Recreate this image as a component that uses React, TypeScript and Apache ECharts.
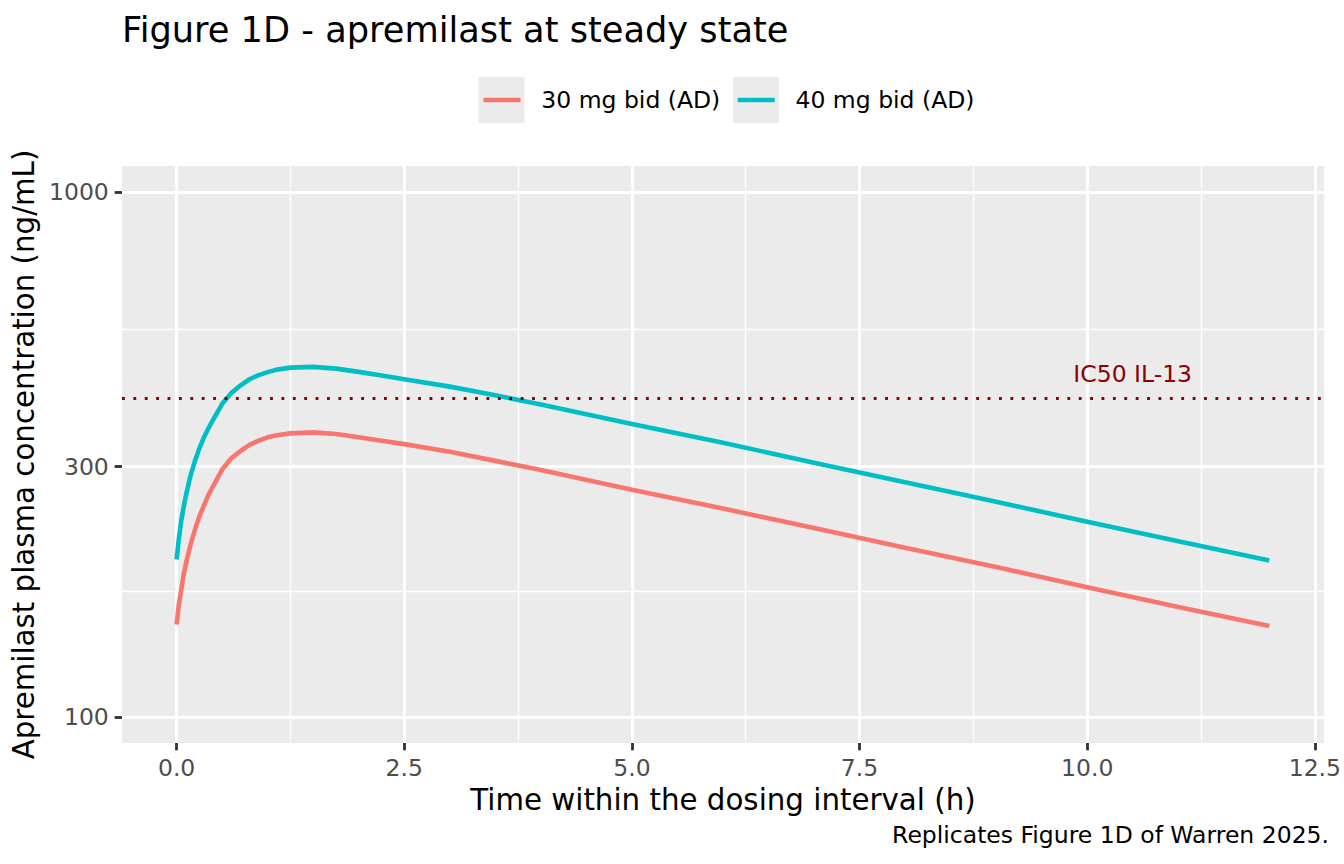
import React, { useEffect, useRef } from "react";
import * as echarts from "echarts";

// ---- data ----
const timeH = [0, 0.025, 0.05, 0.075, 0.1, 0.15, 0.2, 0.25, 0.3, 0.35, 0.4, 0.5, 0.6, 0.7, 0.8, 0.9, 1.0, 1.1, 1.25, 1.5, 1.75, 2.0, 2.25, 2.5, 3.0, 3.5, 4, 5, 6, 7, 8, 9, 10, 11, 12];
const conc30 = [150, 164, 174, 186, 195, 212, 227, 241, 253, 265, 275, 296, 311, 321, 330, 336, 341, 344, 347, 348.5, 346, 341, 336, 331, 320, 307.5, 295.5, 271, 249.5, 229, 210, 193, 176.5, 162, 149];
const conc40 = [199.5, 219, 236, 250, 263, 287, 307, 325, 341, 355, 368, 395, 414, 428, 440, 448, 454, 459, 463, 464.5, 461, 454.5, 447.5, 440, 426, 410, 394, 361.5, 333, 305, 280, 257, 235.5, 216, 198.5];
const seriesNames = ["30 mg bid (AD)", "40 mg bid (AD)"];
const seriesColors = ["#F8766D", "#00BFC4"];

const xMajorBreaks = [0, 2.5, 5, 7.5, 10, 12.5];
const xMinorBreaks = [1.25, 3.75, 6.25, 8.75, 11.25];
const yMajorBreaks = [100, 300, 1000];
const yMinorBreaks = [173.2, 547.7];
const xLimits = [-0.6, 12.6];
const yLimits = [89.13, 1122];

const ic50Value = 405;
const ic50Label = "IC50 IL-13";
const ic50LabelPos = [10.5, 450];

const titleText = "Figure 1D - apremilast at steady state";
const captionText = "Replicates Figure 1D of Warren 2025.";
const xTitle = "Time within the dosing interval (h)";
const yTitle = "Apremilast plasma concentration (ng/mL)";

const FONT = "DejaVu Sans";

export default function App() {
  const ref = useRef<HTMLDivElement>(null);
  useEffect(() => {
    if (!ref.current) return;
    const chart = echarts.init(ref.current, undefined, { renderer: "svg" });
    const tickStyle = { color: "#333333", width: 2.84 };
    const labelStyle = { color: "#4D4D4D", fontSize: 23.5, fontFamily: FONT };
    const mkLine = (vals: number[]) => timeH.map((t, i) => [t, vals[i]]);
    const option: any = {
      animation: false,
      backgroundColor: "#FFFFFF",
      textStyle: { fontFamily: FONT },
      title: [
        {
          text: titleText,
          left: 122,
          top: 12,
          padding: 0,
          textStyle: { fontSize: 35.2, fontWeight: "normal", color: "#000", fontFamily: FONT },
        },
        {
          text: captionText,
          right: 15,
          top: 823,
          padding: 0,
          textStyle: { fontSize: 23.5, fontWeight: "normal", color: "#000", fontFamily: FONT },
        },
      ],
      legend: {
        data: seriesNames,
        left: 483.5,
        top: 88,
        padding: 0,
        icon: "rect",
        itemWidth: 37,
        itemHeight: 4.6,
        itemGap: 17.4,
        textStyle: { fontSize: 23.5, color: "#000", fontFamily: FONT, padding: [0, 0, 0, 15.8], lineHeight: 24 },
      },
      graphic: [
        { type: "rect", z: 1, shape: { x: 478.5, y: 77, width: 46, height: 46 }, style: { fill: "#EBEBEB" } },
        { type: "rect", z: 1, shape: { x: 733, y: 77, width: 46, height: 46 }, style: { fill: "#EBEBEB" } },
      ],
      grid: {
        left: 122,
        right: 15,
        top: 166,
        bottom: 121,
        show: true,
        backgroundColor: "#EBEBEB",
        borderWidth: 0,
        containLabel: false,
      },
      xAxis: [
        {
          type: "value",
          min: xLimits[0],
          max: xLimits[1],
          name: xTitle,
          nameLocation: "middle",
          nameGap: 38,
          nameTextStyle: { fontSize: 29.3, color: "#000", fontFamily: FONT },
          axisLine: { show: false, onZero: false },
          axisTick: { show: true, length: 7.3, lineStyle: tickStyle, customValues: xMajorBreaks },
          axisLabel: { ...labelStyle, margin: 13.2, customValues: xMajorBreaks, formatter: (v: number) => v.toFixed(1) },
          splitLine: { show: true, lineStyle: { color: "#FFFFFF", width: 2.84 } },
        },
        {
          type: "value",
          min: xLimits[0],
          max: xLimits[1],
          position: "bottom",
          axisLine: { show: false, onZero: false },
          axisTick: { show: false, customValues: xMinorBreaks },
          axisLabel: { show: false, customValues: xMinorBreaks },
          splitLine: { show: true, lineStyle: { color: "#FFFFFF", width: 1.42 } },
        },
      ],
      yAxis: [
        {
          type: "log",
          logBase: 10,
          min: yLimits[0],
          max: yLimits[1],
          name: yTitle,
          nameLocation: "middle",
          nameGap: 67,
          nameTextStyle: { fontSize: 29.3, color: "#000", fontFamily: FONT },
          axisLine: { show: false, onZero: false },
          axisTick: { show: true, length: 7.3, lineStyle: tickStyle, customValues: yMajorBreaks },
          axisLabel: { ...labelStyle, margin: 13.2, customValues: yMajorBreaks, formatter: (v: number) => String(Math.round(v)) },
          splitLine: { show: true, lineStyle: { color: "#FFFFFF", width: 2.84 } },
        },
        {
          type: "log",
          logBase: 10,
          min: yLimits[0],
          max: yLimits[1],
          position: "left",
          axisLine: { show: false, onZero: false },
          axisTick: { show: false, customValues: yMinorBreaks },
          axisLabel: { show: false, customValues: yMinorBreaks },
          splitLine: { show: true, lineStyle: { color: "#FFFFFF", width: 1.42 } },
        },
      ],
      series: [
        ...seriesNames.map((name, i) => ({
          name,
          type: "line",
          xAxisIndex: 0,
          yAxisIndex: 0,
          data: mkLine(i === 0 ? conc30 : conc40),
          showSymbol: false,
          symbol: "none",
          smooth: false,
          z: 3,
          color: seriesColors[i],
          lineStyle: { color: seriesColors[i], width: 4.6, join: "round" },
        })),
        {
          name: "IC50",
          type: "scatter",
          xAxisIndex: 0,
          yAxisIndex: 0,
          symbolSize: 0,
          silent: true,
          z: 4,
          itemStyle: { opacity: 1 },
          data: [ic50LabelPos],
          label: {
            show: true,
            position: "inside",
            formatter: ic50Label,
            color: "#8B0000",
            opacity: 1,
            fontSize: 23.5,
            fontFamily: FONT,
          },
          markLine: {
            silent: true,
            symbol: ["none", "none"],
            label: { show: false },
            lineStyle: { color: "#8B0000", width: 2.84, type: [2.84, 8.55], cap: "butt", opacity: 1 },
            data: [{ yAxis: ic50Value }],
          },
        },
      ],
    };
    chart.setOption(option);
    return () => chart.dispose();
  }, []);
  return (
    <div
      ref={ref}
      style={{ position: "fixed", left: 0, top: 0, width: 1344, height: 864, background: "#fff" }}
    />
  );
}
